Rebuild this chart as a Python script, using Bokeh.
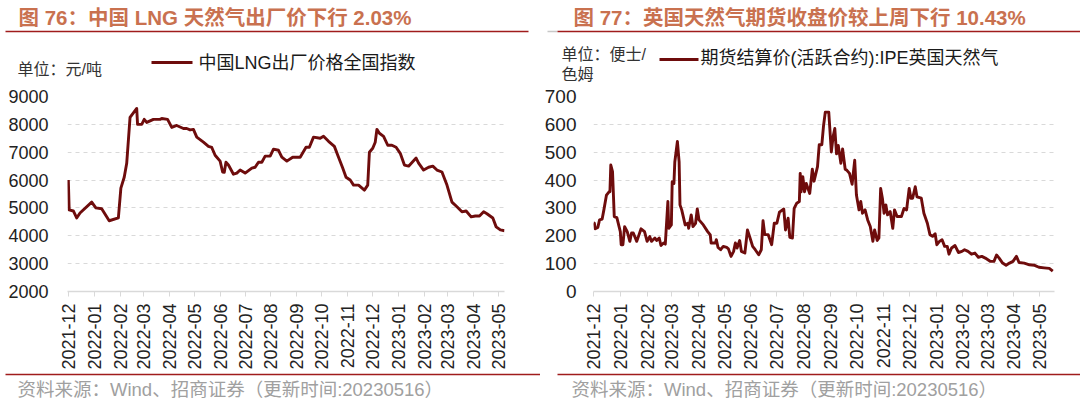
import math
import pandas as pd
from bokeh.plotting import figure
from bokeh.models import Range1d, FixedTicker, DatetimeTickFormatter
from bokeh.layouts import row, column
from bokeh.embed import file_html
from bokeh.resources import INLINE
from bokeh.core.properties import value

# ---------------- data ----------------
month_labels = ["2021-12", "2022-01", "2022-02", "2022-03", "2022-04", "2022-05",
                "2022-06", "2022-07", "2022-08", "2022-09", "2022-10", "2022-11",
                "2022-12", "2023-01", "2023-02", "2023-03", "2023-04", "2023-05"]

lng_yticks = [2000, 3000, 4000, 5000, 6000, 7000, 8000, 9000]
ipe_yticks = [0, 100, 200, 300, 400, 500, 600, 700]

lng_dates = ["2021-12-01", "2021-12-02", "2021-12-07", "2021-12-11", "2021-12-15", "2021-12-29",
             "2022-01-03", "2022-01-10", "2022-01-19", "2022-01-30", "2022-02-02", "2022-02-06",
             "2022-02-09", "2022-02-13", "2022-02-21", "2022-02-22", "2022-02-27", "2022-03-02",
             "2022-03-05", "2022-03-13", "2022-03-21", "2022-03-23", "2022-03-30", "2022-04-04",
             "2022-04-10", "2022-04-18", "2022-04-22", "2022-04-26", "2022-04-30", "2022-05-04",
             "2022-05-12", "2022-05-18", "2022-05-22", "2022-05-26", "2022-06-01", "2022-06-04",
             "2022-06-06", "2022-06-08", "2022-06-11", "2022-06-17", "2022-06-21", "2022-06-25",
             "2022-07-01", "2022-07-09", "2022-07-13", "2022-07-17", "2022-07-21", "2022-07-25",
             "2022-07-31", "2022-08-04", "2022-08-10", "2022-08-14", "2022-08-20", "2022-08-27",
             "2022-09-05", "2022-09-12", "2022-09-16", "2022-09-21", "2022-09-29", "2022-10-03",
             "2022-10-09", "2022-10-16", "2022-10-21", "2022-10-26", "2022-10-30", "2022-11-04",
             "2022-11-08", "2022-11-14", "2022-11-21", "2022-11-25", "2022-11-27", "2022-12-01",
             "2022-12-04", "2022-12-06", "2022-12-09", "2022-12-14", "2022-12-19", "2022-12-24",
             "2022-12-29", "2023-01-03", "2023-01-08", "2023-01-13", "2023-01-22", "2023-01-25",
             "2023-01-31", "2023-02-06", "2023-02-11", "2023-02-16", "2023-02-22", "2023-02-28",
             "2023-03-06", "2023-03-12", "2023-03-18", "2023-03-23", "2023-03-29", "2023-04-03",
             "2023-04-08", "2023-04-13", "2023-04-17", "2023-04-24", "2023-04-28", "2023-05-03",
             "2023-05-08"]
lng_values = [6000, 4930, 4890, 4640, 4820, 5210,
              5000, 4970, 4540, 4640, 5710, 6100,
              6600, 8250, 8570, 8000, 8000, 8180,
              8070, 8180, 8180, 8210, 8180, 7890,
              7960, 7850, 7850, 7800, 7820, 7540,
              7360, 7210, 7170, 6890, 6680, 6290,
              6280, 6640, 6540, 6210, 6250, 6360,
              6250, 6430, 6460, 6640, 6640, 6860,
              6860, 7110, 7070, 6820, 6680, 6820,
              6820, 7180, 7180, 7540, 7500, 7570,
              7390, 7210, 6820, 6430, 6100, 6000,
              5820, 5820, 5640, 5820, 7000, 7140,
              7360, 7820, 7680, 7570, 7250, 7250,
              7180, 6960, 6540, 6500, 6790, 6610,
              6360, 6460, 6500, 6360, 6290, 5820,
              5210, 5040, 4860, 4890, 4680, 4710,
              4710, 4860, 4790, 4640, 4320, 4210,
              4180]

ipe_dates = ["2021-12-01", "2021-12-02", "2021-12-03", "2021-12-06", "2021-12-08", "2021-12-11",
             "2021-12-13", "2021-12-16", "2021-12-19", "2021-12-20", "2021-12-21", "2021-12-23",
             "2021-12-25", "2021-12-28", "2022-01-01", "2022-01-02", "2022-01-04", "2022-01-06",
             "2022-01-09", "2022-01-12", "2022-01-14", "2022-01-16", "2022-01-20", "2022-01-25",
             "2022-01-29", "2022-02-01", "2022-02-04", "2022-02-06", "2022-02-10", "2022-02-12",
             "2022-02-15", "2022-02-17", "2022-02-20", "2022-02-22", "2022-02-25", "2022-02-26",
             "2022-03-01", "2022-03-02", "2022-03-04", "2022-03-05", "2022-03-08", "2022-03-10",
             "2022-03-11", "2022-03-13", "2022-03-17", "2022-03-20", "2022-03-21", "2022-03-24",
             "2022-03-26", "2022-03-29", "2022-03-31", "2022-04-02", "2022-04-07", "2022-04-12",
             "2022-04-15", "2022-04-16", "2022-04-21", "2022-04-22", "2022-04-24", "2022-04-27",
             "2022-04-30", "2022-05-04", "2022-05-06", "2022-05-09", "2022-05-12", "2022-05-14",
             "2022-05-16", "2022-05-19", "2022-05-21", "2022-05-25", "2022-05-28", "2022-05-31",
             "2022-06-03", "2022-06-06", "2022-06-10", "2022-06-13", "2022-06-15", "2022-06-17",
             "2022-06-21", "2022-06-25", "2022-06-28", "2022-07-01", "2022-07-04", "2022-07-09",
             "2022-07-11", "2022-07-14", "2022-07-16", "2022-07-19", "2022-07-21", "2022-07-24",
             "2022-07-27", "2022-07-28", "2022-07-29", "2022-07-31", "2022-08-02", "2022-08-04",
             "2022-08-08", "2022-08-11", "2022-08-13", "2022-08-17", "2022-08-19", "2022-08-22",
             "2022-08-24", "2022-08-26", "2022-08-30", "2022-09-02", "2022-09-04", "2022-09-06",
             "2022-09-08", "2022-09-10", "2022-09-13", "2022-09-15", "2022-09-18", "2022-09-20",
             "2022-09-23", "2022-09-26", "2022-09-29", "2022-10-01", "2022-10-04", "2022-10-06",
             "2022-10-08", "2022-10-11", "2022-10-14", "2022-10-17", "2022-10-20", "2022-10-22",
             "2022-10-25", "2022-10-27", "2022-10-29", "2022-10-31", "2022-11-02", "2022-11-04",
             "2022-11-06", "2022-11-09", "2022-11-12", "2022-11-14", "2022-11-17", "2022-11-22",
             "2022-11-25", "2022-11-28", "2022-12-01", "2022-12-03", "2022-12-05", "2022-12-08",
             "2022-12-10", "2022-12-15", "2022-12-18", "2022-12-22", "2022-12-25", "2022-12-28",
             "2022-12-31", "2023-01-02", "2023-01-05", "2023-01-08", "2023-01-11", "2023-01-14",
             "2023-01-16", "2023-01-19", "2023-01-23", "2023-01-27", "2023-01-31", "2023-02-03",
             "2023-02-07", "2023-02-11", "2023-02-15", "2023-02-19", "2023-02-23", "2023-02-27",
             "2023-03-05", "2023-03-09", "2023-03-12", "2023-03-15", "2023-03-19", "2023-03-23",
             "2023-03-27", "2023-03-31", "2023-04-04", "2023-04-07", "2023-04-13", "2023-04-19",
             "2023-04-25", "2023-04-30", "2023-05-06", "2023-05-12", "2023-05-16"]
ipe_values = [246, 245, 225, 230, 257, 260,
              293, 346, 358, 358, 454, 430,
              269, 265, 215, 168, 168, 233,
              215, 180, 210, 210, 180, 225,
              215, 180, 197, 180, 192, 183,
              192, 165, 174, 170, 323, 227,
              239, 394, 388, 465, 539, 465,
              311, 293, 239, 245, 227, 275,
              233, 245, 296, 257, 239, 215,
              203, 174, 174, 186, 158, 150,
              162, 158, 153, 126, 144, 174,
              156, 183, 144, 138, 221, 192,
              162, 150, 132, 150, 254, 204,
              204, 168, 245, 245, 285, 296,
              221, 263, 194, 192, 298, 317,
              323, 424, 358, 412, 358, 388,
              352, 439, 396, 448, 527, 527,
              596, 644, 644, 501, 555, 585,
              494, 524, 460, 512, 439, 435,
              424, 385, 471, 346, 293, 323,
              281, 293, 257, 233, 180, 221,
              183, 192, 370, 335, 281, 311,
              275, 287, 227, 293, 269, 269,
              298, 293, 370, 335, 335, 376,
              340, 335, 281, 245, 204, 198,
              207, 168, 180, 186, 162, 162,
              134, 156, 165, 140, 144, 150,
              144, 134, 138, 123, 126, 120,
              108, 108, 131, 120, 102, 94,
              102, 108, 126, 104, 102, 96,
              94, 87, 85, 83, 73]

left_title = "图 76：中国 LNG 天然气出厂价下行 2.03%"
right_title = "图 77：英国天然气期货收盘价较上周下行 10.43%"
left_unit = ["单位：元/吨"]
right_unit = ["单位：便士/", "色姆"]
left_legend = "中国LNG出厂价格全国指数"
right_legend = "期货结算价(活跃合约):IPE英国天然气"
source_text = "资料来源：Wind、招商证券（更新时间:20230516）"

# ---------------- styles / layout ----------------
LINE_COLOR = "#6E0C0C"
TITLE_COLOR = "#C9714F"
RULE_COLOR = "#A01C1C"
GRID_COLOR = "#D9D9D9"
FONT = "Liberation Sans, 'Noto Sans CJK SC'"
PW = 540                       # width of each panel
HEAD_H, MAIN_H, FOOT_H = 84, 288, 27
FRAME_TOP, FRAME_BOTTOM = 96, 292   # page y of the plot frame


def blank(height, x_off, y_off):
    f = figure(width=PW, height=height, x_range=Range1d(x_off, x_off + PW),
               y_range=Range1d(y_off + height, y_off), output_backend="svg",
               toolbar_location=None, min_border=0, x_axis_location=None,
               y_axis_location=None)
    f.outline_line_color = None
    f.xgrid.visible = False
    f.ygrid.visible = False
    f.background_fill_color = "white"
    f.border_fill_color = "white"
    return f


def put_text(f, t, X, Y, size, color, bold=False):
    f.text(x=[X], y=[Y], text=[t], text_font=value(FONT), text_font_size=value(size),
           text_color=color, text_font_style="bold" if bold else "normal",
           text_baseline="middle", text_align="left")


def put_rule(f, X0, X1, Y, color, width):
    f.segment(x0=[X0], y0=[Y], x1=[X1], y1=[Y], line_color=color, line_width=width)


def make_panel(dates, vals, x0, x1, yticks, x_off, frame_left, frame_right,
               title, legend, title_x, units, unit_x, unit_ys, leg_x0, leg_x1, leg_y,
               leg_text_x, leg_text_y, rule_x0, rule_x1, foot_x, foot_rule_x0,
               ylab_standoff, ylab_size, grey_bit=None):
    # header
    h = blank(HEAD_H, x_off, 0)
    put_text(h, title, title_x, 17, "20.5px", TITLE_COLOR, bold=True)
    if grey_bit:
        put_rule(h, grey_bit[0], grey_bit[1], 31, "#C8C8C8", 1.5)
    put_rule(h, rule_x0, rule_x1, 31, RULE_COLOR, 1.5)
    for t, uy in zip(units, unit_ys):
        put_text(h, t, unit_x, uy, "16px", "#333333")
    put_rule(h, leg_x0, leg_x1, leg_y, LINE_COLOR, 3)
    put_text(h, legend, leg_text_x, leg_text_y, "18px", "#1A1A1A")

    # main chart
    p = figure(width=PW, height=MAIN_H, x_axis_type="datetime",
               x_range=Range1d(pd.Timestamp(x0), pd.Timestamp(x1)),
               y_range=Range1d(yticks[0], yticks[-1]),
               output_backend="svg", toolbar_location=None, title=None,
               min_border_left=frame_left - x_off,
               min_border_right=x_off + PW - frame_right,
               min_border_top=FRAME_TOP - HEAD_H,
               min_border_bottom=HEAD_H + MAIN_H - FRAME_BOTTOM)
    p.outline_line_color = None
    p.background_fill_color = "white"
    p.border_fill_color = "white"
    p.xgrid.grid_line_color = None
    p.ygrid.grid_line_color = GRID_COLOR
    p.ygrid.grid_line_dash = "4 4"
    p.ygrid.grid_line_width = 1

    p.yaxis.ticker = FixedTicker(ticks=yticks)
    p.yaxis.axis_line_color = None
    p.yaxis.major_tick_line_color = None
    p.yaxis.minor_tick_line_color = None
    p.yaxis.major_label_text_font = "Liberation Sans"
    p.yaxis.major_label_text_font_size = ylab_size
    p.yaxis.major_label_text_color = "#222222"
    p.yaxis.major_label_standoff = ylab_standoff

    tick_ms = [int(pd.Timestamp(m + "-01").value // 10**6) for m in month_labels]
    p.xaxis.ticker = FixedTicker(ticks=tick_ms)
    p.xaxis.formatter = DatetimeTickFormatter(months="%Y-%m", days="%Y-%m", years="%Y-%m")
    p.xaxis.major_label_overrides = dict(zip(tick_ms, month_labels))
    p.xaxis.major_label_orientation = math.pi / 2
    p.xaxis.major_label_text_font = "Liberation Sans"
    p.xaxis.major_label_text_font_size = "18px"
    p.xaxis.major_label_text_color = "#222222"
    p.xaxis.major_label_standoff = 7
    p.xaxis.axis_line_color = GRID_COLOR
    p.xaxis.axis_line_width = 1.5
    p.xaxis.major_tick_line_color = GRID_COLOR
    p.xaxis.major_tick_out = 5
    p.xaxis.major_tick_in = 0
    p.xaxis.minor_tick_line_color = None

    p.line(pd.to_datetime(dates), vals, line_color=LINE_COLOR, line_width=2.9,
           line_join="round")

    # footer
    foot_top = HEAD_H + MAIN_H
    f = blank(FOOT_H, x_off, foot_top)
    put_rule(f, foot_rule_x0, x_off + PW, 374, RULE_COLOR, 1.5)
    put_text(f, source_text, foot_x, 389, "18.5px", "#A0A0A0")
    return h, p, f


h1, p1, f1 = make_panel(lng_dates, lng_values, "2021-11-30", "2023-05-08", lng_yticks,
                        x_off=0, frame_left=67, frame_right=504,
                        title=left_title, legend=left_legend, title_x=18, units=left_unit,
                        unit_x=17, unit_ys=[69], leg_x0=151, leg_x1=192, leg_y=62,
                        leg_text_x=198, leg_text_y=62, rule_x0=5, rule_x1=528, foot_x=17,
                        foot_rule_x0=5, ylab_standoff=13, ylab_size="18px")
h2, p2, f2 = make_panel(ipe_dates, ipe_values, "2021-12-01", "2023-05-18", ipe_yticks,
                        x_off=540, frame_left=593, frame_right=1054,
                        title=right_title, legend=right_legend, title_x=573, units=right_unit,
                        unit_x=561, unit_ys=[54, 74], leg_x0=659, leg_x1=698, leg_y=59,
                        leg_text_x=700, leg_text_y=57, rule_x0=557, rule_x1=1080, foot_x=571,
                        foot_rule_x0=557, ylab_standoff=11, ylab_size="19px",
                        grey_bit=(547, 557))

layout = column(row(h1, h2), row(p1, p2), row(f1, f2))
open("out.html", "w").write(file_html(layout, INLINE))
